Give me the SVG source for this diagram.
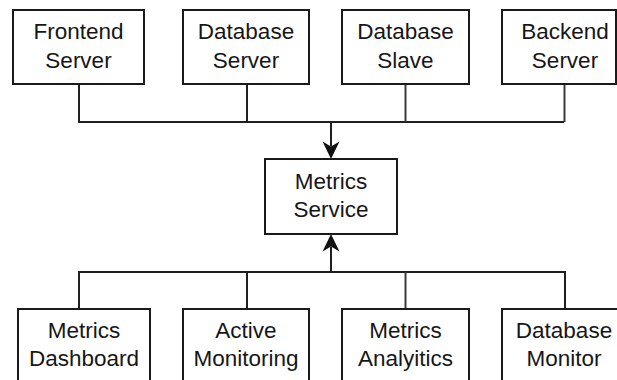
<svg xmlns="http://www.w3.org/2000/svg" width="617" height="380" viewBox="0 0 617 380">
  <style>
    .box { fill: #ffffff; stroke: #1a1a1a; stroke-width: 2; }
    .lbl { font-family: "Liberation Sans", Arial, sans-serif; font-size: 22.5px; fill: #161616; text-anchor: middle; }
    .wire { fill: none; stroke: #1f1f1f; stroke-width: 2; }
    .wire-soft { fill: none; stroke: #3a3a3a; stroke-width: 2; }
    .head { fill: #111111; stroke: none; }
  </style>
  <rect width="617" height="380" fill="#ffffff"/>

  <!-- connectors -->
  <g id="connectors">
    <!-- sources feeding the metrics service -->
    <path class="wire" d="M79,84 V122 H564"/>
    <path class="wire" d="M247,84 V122"/>
    <path class="wire-soft" d="M405.5,84 V122"/>
    <path class="wire-soft" d="M564.5,84 V122"/>
    <path class="wire" d="M331,122 V146"/>
    <path class="head" d="M331,159 L322.5,141.5 L331,146.5 L339.5,141.5 Z"/>
    <!-- consumers reading from the metrics service -->
    <path class="wire" d="M79,309 V272 H565 V309"/>
    <path class="wire" d="M247,309 V272"/>
    <path class="wire-soft" d="M405.5,309 V272"/>
    <path class="wire" d="M331,272 V247"/>
    <path class="head" d="M331,234 L322.5,251.5 L331,246.5 L339.5,251.5 Z"/>
  </g>

  <!-- top row -->
  <g id="frontend-server">
    <rect class="box" x="13" y="10" width="131" height="74"/>
    <text class="lbl" x="78.5" y="39.3">Frontend</text>
    <text class="lbl" x="78.5" y="68.3">Server</text>
  </g>
  <g id="database-server">
    <rect class="box" x="183" y="10" width="126" height="74"/>
    <text class="lbl" x="246" y="39.3">Database</text>
    <text class="lbl" x="246" y="68.3">Server</text>
  </g>
  <g id="database-slave">
    <rect class="box" x="342" y="10" width="127" height="74"/>
    <text class="lbl" x="405.5" y="39.3">Database</text>
    <text class="lbl" x="405.5" y="68.3">Slave</text>
  </g>
  <g id="backend-server">
    <rect class="box" x="502" y="10" width="114" height="74"/>
    <text class="lbl" x="565" y="39.3">Backend</text>
    <text class="lbl" x="565" y="68.3">Server</text>
  </g>

  <!-- centre -->
  <g id="metrics-service">
    <rect class="box" x="265" y="159" width="132" height="75"/>
    <text class="lbl" x="331" y="188.6">Metrics</text>
    <text class="lbl" x="331" y="217.4">Service</text>
  </g>

  <!-- bottom row -->
  <g id="metrics-dashboard">
    <rect class="box" x="18" y="309" width="132" height="90"/>
    <text class="lbl" x="84" y="337.5">Metrics</text>
    <text class="lbl" x="84" y="366">Dashboard</text>
  </g>
  <g id="active-monitoring">
    <rect class="box" x="183" y="309" width="126" height="90"/>
    <text class="lbl" x="246" y="337.5">Active</text>
    <text class="lbl" x="246" y="366">Monitoring</text>
  </g>
  <g id="metrics-analytics">
    <rect class="box" x="342" y="309" width="127" height="90"/>
    <text class="lbl" x="405.5" y="337.5">Metrics</text>
    <text class="lbl" x="405.5" y="366">Analyitics</text>
  </g>
  <g id="database-monitor">
    <rect class="box" x="502" y="309" width="126" height="90"/>
    <text class="lbl" x="564" y="337.5">Database</text>
    <text class="lbl" x="564" y="366">Monitor</text>
  </g>
</svg>
